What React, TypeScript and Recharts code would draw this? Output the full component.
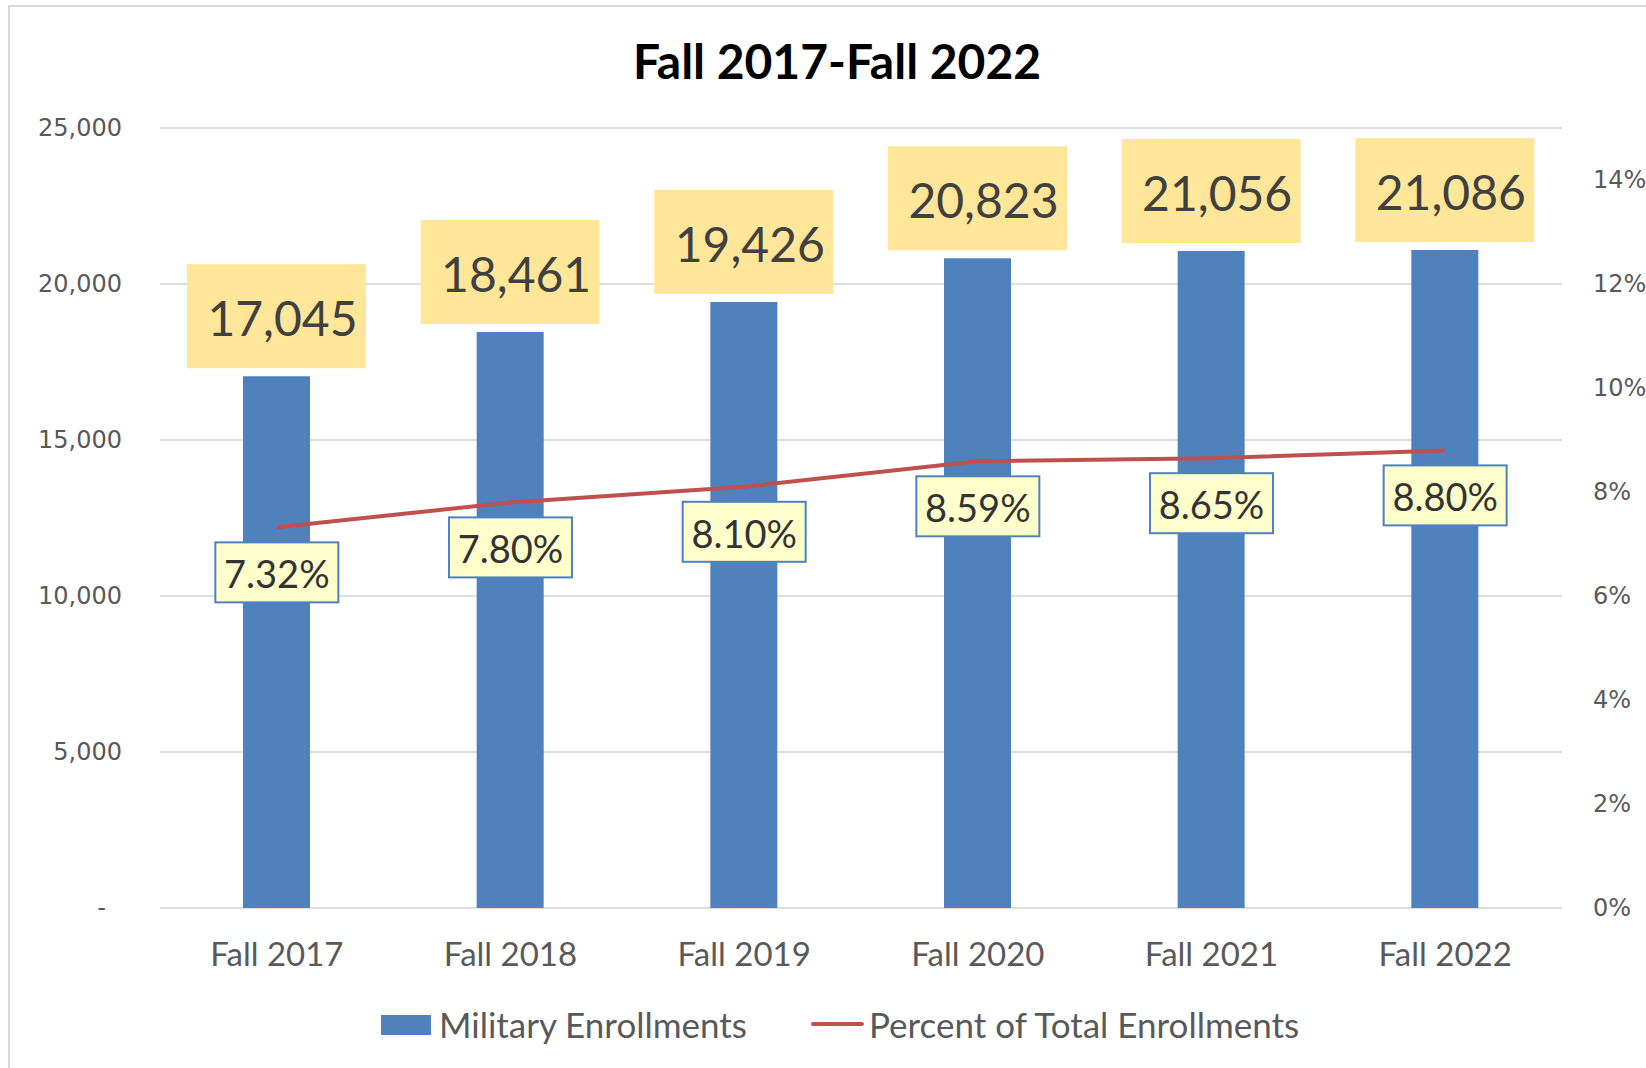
import React from 'react';
import { ComposedChart, Bar, Line, XAxis, YAxis, CartesianGrid, LabelList } from 'recharts';

const terms = ['Fall 2017', 'Fall 2018', 'Fall 2019', 'Fall 2020', 'Fall 2021', 'Fall 2022'];
const militaryEnrollments = [17045, 18461, 19426, 20823, 21056, 21086];
const percentOfTotal = [7.32, 7.8, 8.1, 8.59, 8.65, 8.8];
const countTicks = [0, 5000, 10000, 15000, 20000, 25000];
const percentTicks = [0, 2, 4, 6, 8, 10, 12, 14];
const boundaryTicks = [0, 1, 2, 3, 4, 5, 6];

const data = terms.map((term, i) => ({
  term,
  military: militaryEnrollments[i],
  percent: percentOfTotal[i],
}));

const axisText = { fill: '#595959', fontFamily: 'DejaVu Sans', fontSize: 24 };

const CountTick = (props: any) => {
  const { x, y, payload } = props;
  const v = payload.value;
  return (
    <text x={v === 0 ? x - 16 : x} y={y} dy={8} textAnchor="end" {...axisText}>
      {v === 0 ? '-' : v.toLocaleString('en-US')}
    </text>
  );
};

const PercentTick = (props: any) => {
  const { x, y, payload } = props;
  return (
    <text x={x} y={y} dy={8} textAnchor="start" {...axisText}>
      {payload.value + '%'}
    </text>
  );
};

const CountLabel = (props: any) => {
  const { x, y, width, value } = props;
  const cx = x + width / 2;
  const top = y - 8 - 104;
  return (
    <g>
      <rect x={cx - 89.5} y={top} width={179} height={104} fill="#ffe699" />
      <text x={cx + 6} y={top + 72} textAnchor="middle" fill="#404040" fontFamily="Lato" fontSize={48}>
        {Number(value).toLocaleString('en-US')}
      </text>
    </g>
  );
};

const PercentLabel = (props: any) => {
  const { x, y, value } = props;
  const top = y + 15;
  return (
    <g>
      <rect x={x - 61.5} y={top} width={123} height={60} fill="#ffffcc" stroke="#4f81bd" strokeWidth={2} />
      <text x={x} y={top + 46} textAnchor="middle" fill="#333333" fontFamily="Lato" fontSize={38}>
        {Number(value).toFixed(2) + '%'}
      </text>
    </g>
  );
};

export default function App() {
  return (
    <div style={{ position: 'absolute', left: 0, top: 0, width: 1646, height: 1068, overflow: 'hidden', background: '#fff' }}>
      <div style={{ position: 'absolute', left: 8, top: 5, width: 1700, height: 1100, border: '2px solid #d9d9d9' }} />
      <div
        style={{
          position: 'absolute', left: 0, top: 32, width: 1674, textAlign: 'center',
          fontFamily: 'Lato', fontWeight: 700, fontSize: 48, lineHeight: '58px', color: '#000',
        }}
      >
        Fall 2017-Fall 2022
      </div>
      <div style={{ position: 'absolute', left: 0, top: 0 }}>
        <ComposedChart width={1646} height={1068} data={data} margin={{ top: 128, right: 0, bottom: 0, left: 0 }}>
          <CartesianGrid vertical={false} yAxisId="left" stroke="#dedede" strokeWidth={2} />
          <XAxis
            xAxisId="edges"
            type="number"
            domain={[0, 6]}
            ticks={boundaryTicks}
            allowDataOverflow
            tick={false}
            tickSize={10}
            height={0}
            axisLine={{ stroke: '#c8c8c8', strokeWidth: 1.5 }}
            tickLine={{ stroke: '#c8c8c8', strokeWidth: 1.5 }}
          />
          <XAxis
            dataKey="term"
            interval={0}
            height={160}
            axisLine={false}
            tickLine={false}
            tickSize={0}
            tickMargin={35}
            tick={{ fill: '#595959', fontFamily: 'Lato', fontSize: 33 }}
          />
          <YAxis
            yAxisId="left"
            domain={[0, 25000]}
            ticks={countTicks}
            width={160}
            axisLine={false}
            tickLine={false}
            tickSize={0}
            tickMargin={38}
            tick={<CountTick />}
          />
          <YAxis
            yAxisId="right"
            orientation="right"
            domain={[0, 15]}
            ticks={percentTicks}
            width={84}
            axisLine={false}
            tickLine={false}
            tickSize={0}
            tickMargin={31}
            tick={<PercentTick />}
          />
          <Bar yAxisId="left" dataKey="military" barSize={67} fill="#4f81bd" isAnimationActive={false}>
            <LabelList dataKey="military" content={<CountLabel />} />
          </Bar>
          <Line
            yAxisId="right"
            type="linear"
            dataKey="percent"
            stroke="#c0504d"
            strokeWidth={4}
            dot={false}
            activeDot={false}
            isAnimationActive={false}
          >
            <LabelList dataKey="percent" content={<PercentLabel />} />
          </Line>
        </ComposedChart>
      </div>
      <div style={{ position: 'absolute', left: 381, top: 1015, width: 50, height: 20, background: '#4f81bd' }} />
      <div style={{ position: 'absolute', left: 439, top: 1003, fontFamily: 'Lato', fontSize: 35, lineHeight: '42px', color: '#595959' }}>
        Military Enrollments
      </div>
      <div style={{ position: 'absolute', left: 811, top: 1022, width: 53, height: 4, borderRadius: 2, background: '#c0504d' }} />
      <div style={{ position: 'absolute', left: 869, top: 1003, fontFamily: 'Lato', fontSize: 35, lineHeight: '42px', color: '#595959' }}>
        Percent of Total Enrollments
      </div>
    </div>
  );
}
